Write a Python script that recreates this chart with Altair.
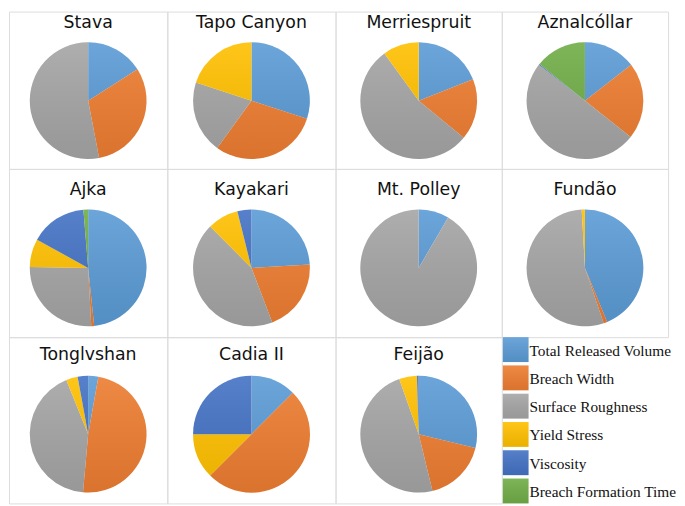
import math
import altair as alt
import pandas as pd

dams = ["Stava", "Tapo Canyon", "Merriespruit", "Aznalcóllar", "Ajka", "Kayakari",
        "Mt. Polley", "Fundão", "Tonglvshan", "Cadia II", "Feijão"]
categories = ["Total Released Volume", "Breach Width", "Surface Roughness",
              "Yield Stress", "Viscosity", "Breach Formation Time"]

total_released_volume = [16.0, 30.0, 19.0, 14.5, 48.4, 24.1, 8.4, 43.8, 2.8, 12.5, 28.8]
breach_width = [31.0, 30.0, 17.0, 21.2, 0.8, 20.1, 0.0, 1.0, 48.6, 50.0, 17.4]
surface_roughness = [53.0, 20.0, 54.0, 49.8, 26.1, 43.3, 91.6, 54.3, 42.5, 0.0, 48.4]
yield_stress = [0.0, 20.0, 10.0, 0.0, 7.8, 8.6, 0.0, 0.9, 3.2, 12.5, 4.9]
viscosity = [0.0, 0.0, 0.0, 0.3, 15.7, 3.9, 0.0, 0.0, 2.9, 25.0, 0.5]
breach_formation_time = [0.0, 0.0, 0.0, 14.2, 1.3, 0.0, 0.0, 0.0, 0.0, 0.0, 0.0]

colors = ["#5b9bd5", "#ed7d31", "#a5a5a5", "#ffc000", "#4472c4", "#70ad47"]

series = [total_released_volume, breach_width, surface_roughness,
          yield_stress, viscosity, breach_formation_time]
rows = []
for di, dam in enumerate(dams):
    for ci, cat in enumerate(categories):
        rows.append({"dam": dam, "category": cat, "idx": ci, "value": series[ci][di]})
df = pd.DataFrame(rows)

# layout (pixels)
col_widths = [160, 170, 168, 168]
row_heights = [159, 170, 168]
pie_cy = [90, 100, 98]
title_y = [17, 26, 23]
R = 59

shade_fill = alt.LinearGradient(
    gradient="linear", x1=0, y1=0, x2=0, y2=1,
    stops=[alt.GradientStop(color="rgba(255,255,255,0.10)", offset=0),
           alt.GradientStop(color="rgba(0,0,0,0.08)", offset=1)])

color_scale = alt.Scale(domain=categories, range=colors)


def pie_panel(i, w, h, cy, ty):
    d = df[df["dam"] == dams[i]]
    one = pd.DataFrame({"dam": [dams[i]]})
    arcs = alt.Chart(d).mark_arc(radius=R).encode(
        theta=alt.Theta("value:Q", stack=True),
        color=alt.Color("category:N", scale=color_scale, legend=None),
        order=alt.Order("idx:Q"),
        y=alt.value(cy),
    )
    shade = alt.Chart(one).mark_arc(radius=R, theta=0, theta2=2 * math.pi, fill=shade_fill).encode(
        y=alt.value(cy))
    title = alt.Chart(one).mark_text(font="DejaVu Sans", fontSize=17.5, color="#111111",
                                     baseline="alphabetic", align="center").encode(
        text="dam:N", x=alt.value(w / 2), y=alt.value(ty))
    return alt.layer(arcs, shade, title).properties(width=w, height=h)


def legend_panel(w, h):
    ld = pd.DataFrame({"category": categories, "idx": list(range(len(categories)))})
    yenc = alt.Y("category:N", sort=categories, axis=None,
                 scale=alt.Scale(paddingInner=0.12, paddingOuter=0))
    sw = alt.Chart(ld).mark_rect().encode(
        x=alt.value(1), x2=alt.value(27), y=yenc,
        color=alt.Color("category:N", scale=color_scale, legend=None))
    sw_shade = alt.Chart(ld).mark_rect(fill=shade_fill).encode(
        x=alt.value(1), x2=alt.value(27), y=yenc)
    txt = alt.Chart(ld).mark_text(font="Liberation Serif", fontSize=15.5, color="#111111",
                                  align="left", baseline="middle", dy=1).encode(
        x=alt.value(28), y=yenc, text="category:N")
    return alt.layer(sw, sw_shade, txt).properties(
        width=w, height=h, view=alt.ViewBackground(stroke="transparent"))


panels = []
k = 0
for r in range(3):
    for c in range(4):
        if k < len(dams):
            panels.append(pie_panel(k, col_widths[c], row_heights[r], pie_cy[r], title_y[r]))
        else:
            panels.append(legend_panel(col_widths[c], row_heights[r]))
        k += 1

chart = alt.concat(*panels, columns=4, spacing=0, bounds="flush").properties(padding=0).configure_view(
    stroke="#d9d9d9", strokeWidth=1.2).configure(background="white")

chart.save("out.html", embed_options={"renderer": "svg", "actions": False})
